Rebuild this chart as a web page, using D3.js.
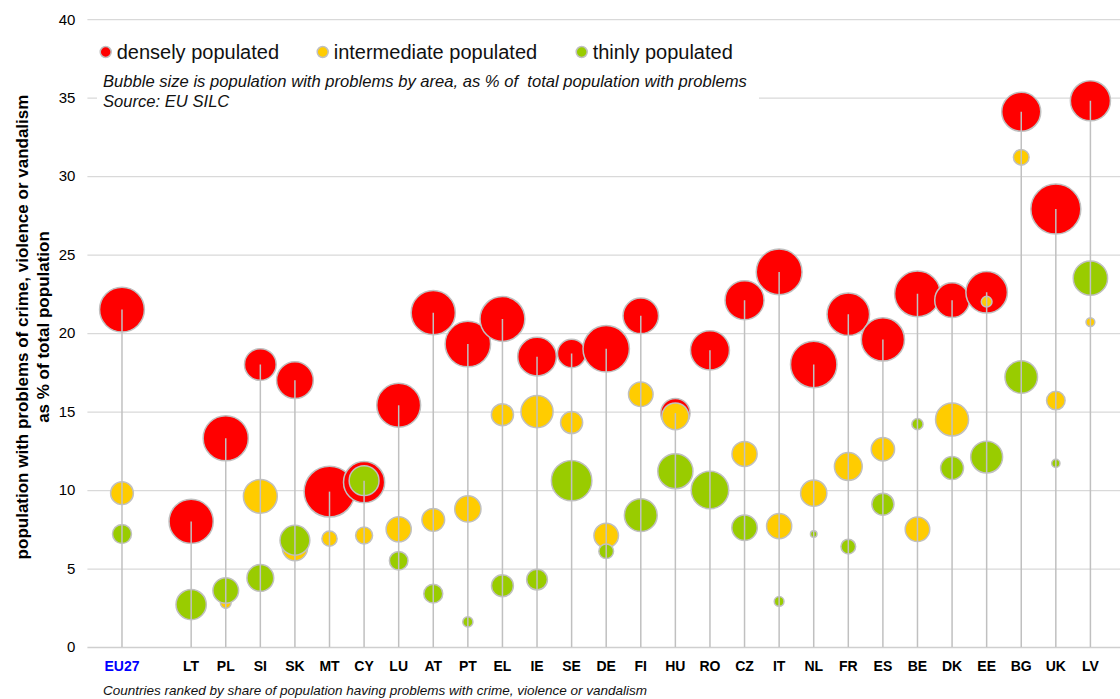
<!DOCTYPE html>
<html>
<head>
<meta charset="utf-8">
<script src="https://cdn.jsdelivr.net/npm/d3@7"></script>
<style>
  html, body { margin: 0; padding: 0; background: #fff; }
  svg { display: block; font-family: "Liberation Sans", Arial, sans-serif; }
</style>
</head>
<body>
<svg id="chart" width="1120" height="699"></svg>
<script>
// ---- data ----
const categories = ["EU27", "", "LT", "PL", "SI", "SK", "MT", "CY", "LU", "AT", "PT", "EL", "IE", "SE",
  "DE", "FI", "HU", "RO", "CZ", "IT", "NL", "FR", "ES", "BE", "DK", "EE", "BG", "UK", "LV"];

// share of population with problems (% of total population), by degree of urbanisation
const denseValues = [21.5, null, 8.0, 13.3, 18.0, 17.0, 9.9, 10.5, 15.4, 21.3, 19.3, 20.9, 18.5, 18.7,
  19.0, 21.1, 14.9, 18.9, 22.1, 23.9, 18.0, 21.2, 19.6, 22.5, 22.1, 22.6, 34.1, 27.9, 34.8];
const intermediateValues = [9.8, null, null, 2.8, 9.6, 6.3, 6.9, 7.1, 7.5, 8.1, 8.8, 14.8, 15.0, 14.3,
  7.1, 16.1, 14.7, null, 12.3, 7.7, 9.8, 11.5, 12.6, 7.5, 14.5, 22.0, 31.2, 15.7, 20.7];
const thinValues = [7.2, null, 2.7, 3.6, 4.4, 6.8, null, 10.6, 5.5, 3.4, 1.6, 3.9, 4.3, 10.6,
  6.1, 8.4, 11.2, 10.0, 7.6, 2.9, 7.2, 6.4, 9.1, 14.2, 11.4, 12.1, 17.2, 11.7, 23.5];

// bubble size: population with problems by area, as % of total population with problems
const denseSizes = [70, null, 68, 71, 35, 47, 90, 59, 67, 68, 72, 70, 52, 28,
  75, 44, 30, 53, 53, 73, 75, 63, 65, 73, 42, 60, 53, 87, 56];
const intermediateSizes = [18, null, null, 4, 40, 22, 8, 10, 22, 18, 24, 17, 36, 17,
  21, 21, 25, null, 22, 22, 24, 27, 19, 21, 38, 4, 8.5, 12, 2.7];
const thinSizes = [12.5, null, 32, 23, 25, 31, null, 31, 12, 12.5, 3.6, 16.7, 15, 57,
  7.5, 37.6, 43, 49, 22.5, 3.3, 1.5, 7.5, 17, 4.3, 18.3, 35.4, 37, 2.4, 41];

const yTicks = [0, 5, 10, 15, 20, 25, 30, 35, 40];

const seriesNames = ["densely populated", "intermediate populated", "thinly populated"];
const seriesColors = ["#ff0000", "#ffcc00", "#99cc00"];

// ---- build ----
const series = [
  { name: seriesNames[0], color: seriesColors[0], values: denseValues, sizes: denseSizes },
  { name: seriesNames[1], color: seriesColors[1], values: intermediateValues, sizes: intermediateSizes },
  { name: seriesNames[2], color: seriesColors[2], values: thinValues, sizes: thinSizes }
];

const svg = d3.select("#chart");
const W = 1120, H = 699;
const plot = { left: 87.4, right: 1125, top: 19.2, bottom: 647 };

const x = d3.scalePoint().domain(categories.map((c, i) => i)).range([plot.left, plot.right]).padding(1);
const y = d3.scaleLinear().domain([0, 40]).range([plot.bottom, plot.top]);
const r = d3.scaleSqrt().domain([0, 100]).range([0, 26.8]);

const font = '"Liberation Sans", Arial, sans-serif';

// gridlines
const yAxis = d3.axisLeft(y).tickValues(yTicks).tickSize(-(W - plot.left)).tickFormat(d3.format("d")).tickPadding(12);
const gy = svg.append("g").attr("transform", `translate(${plot.left},0)`).call(yAxis);
gy.select(".domain").remove();
gy.selectAll(".tick line").attr("stroke", "#d9d9d9").attr("stroke-width", 1.3);
gy.selectAll(".tick text").attr("font-size", 15).attr("fill", "#000").attr("font-family", font);
gy.selectAll(".tick").filter(d => d === 0).select("line").attr("stroke", "#cfcfcf").attr("stroke-width", 1.6);

// bubbles (red, then yellow, then green on top)
series.forEach(s => {
  const pts = categories.map((c, i) => ({ i, v: s.values[i], sz: s.sizes[i] }))
    .filter(d => d.v != null && d.sz != null);
  svg.append("g").selectAll("circle").data(pts).join("circle")
    .attr("cx", d => x(d.i))
    .attr("cy", d => y(d.v))
    .attr("r", d => r(d.sz))
    .attr("fill", s.color)
    .attr("stroke", "#c0c0c0")
    .attr("stroke-width", 1.5);
});

// drop lines from axis to the highest value, drawn on top
const stems = categories.map((c, i) => {
  const vals = series.map(s => s.values[i]).filter(v => v != null);
  return vals.length ? { i, max: d3.max(vals) } : null;
}).filter(d => d);
svg.append("g").selectAll("line").data(stems).join("line")
  .attr("x1", d => x(d.i)).attr("x2", d => x(d.i))
  .attr("y1", y(0)).attr("y2", d => y(d.max))
  .attr("stroke", "#c0c0c0").attr("stroke-width", 1.5);

// x category labels
svg.append("g").selectAll("text").data(categories.map((c, i) => ({ c, i })).filter(d => d.c))
  .join("text")
  .attr("x", d => x(d.i))
  .attr("y", 666)
  .attr("dy", "0.35em")
  .attr("text-anchor", "middle")
  .attr("font-size", 14)
  .attr("font-weight", "bold")
  .attr("font-family", font)
  .attr("fill", d => d.c === "EU27" ? "#0000ff" : "#000")
  .text(d => d.c);

// legend box
svg.append("rect").attr("x", 97).attr("y", 30).attr("width", 662).attr("height", 82).attr("fill", "#fff");
const legendX = [105.7, 322.7, 581.7];
series.forEach((s, k) => {
  svg.append("circle").attr("cx", legendX[k]).attr("cy", 52).attr("r", 5.5)
    .attr("fill", s.color).attr("stroke", "#c0c0c0").attr("stroke-width", 1.5);
  svg.append("text").attr("x", legendX[k] + 11).attr("y", 52).attr("dy", "0.35em")
    .attr("font-size", 20).attr("font-family", font).attr("fill", "#111").text(s.name);
});
svg.append("text").attr("x", 103).attr("y", 81.5).attr("dy", "0.35em")
  .attr("font-size", 16.6).attr("font-style", "italic").attr("font-family", font).attr("fill", "#111")
  .style("white-space", "pre")
  .text("Bubble size is population with problems by area, as % of  total population with problems");
svg.append("text").attr("x", 103).attr("y", 101.5).attr("dy", "0.35em")
  .attr("font-size", 16.6).attr("font-style", "italic").attr("font-family", font).attr("fill", "#111")
  .text("Source: EU SILC");

// y axis title
const yt = svg.append("text").attr("transform", "translate(0,327) rotate(-90)")
  .attr("text-anchor", "middle").attr("font-size", 17).attr("font-weight", "bold")
  .attr("font-family", font).attr("fill", "#000");
yt.append("tspan").attr("x", 0).attr("y", 21.7).attr("dy", "0.35em")
  .text("population with problems of crime, violence or vandalism");
yt.append("tspan").attr("x", 0).attr("y", 43.3).attr("dy", "0.35em")
  .text("as % of total population");

// bottom note
svg.append("text").attr("x", 103).attr("y", 690.7).attr("dy", "0.35em")
  .attr("font-size", 13.5).attr("font-style", "italic").attr("font-family", font).attr("fill", "#111")
  .text("Countries ranked by share of population having problems with crime, violence or vandalism");
</script>
</body>
</html>
